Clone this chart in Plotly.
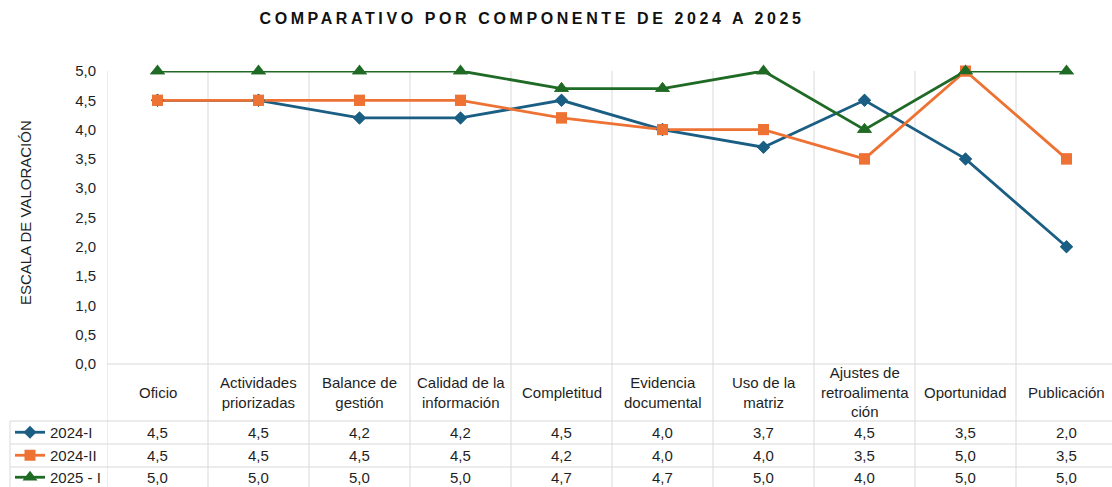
import plotly.graph_objects as go

categories = ["Oficio", "Actividades<br>priorizadas", "Balance de<br>gestión",
              "Calidad de la<br>información", "Completitud", "Evidencia<br>documental",
              "Uso de la<br>matriz", "Ajustes de<br>retroalimenta<br>ción", "Oportunidad",
              "Publicación"]
series_names = ["2024-I", "2024-II", "2025 - I"]
s_2024_I = [4.5, 4.5, 4.2, 4.2, 4.5, 4.0, 3.7, 4.5, 3.5, 2.0]
s_2024_II = [4.5, 4.5, 4.5, 4.5, 4.2, 4.0, 4.0, 3.5, 5.0, 3.5]
s_2025_I = [5.0, 5.0, 5.0, 5.0, 4.7, 4.7, 5.0, 4.0, 5.0, 5.0]
y_ticks = [0, 0.5, 1, 1.5, 2, 2.5, 3, 3.5, 4, 4.5, 5]

values = [s_2024_I, s_2024_II, s_2025_I]
colors = ["#1B5E83", "#ED7233", "#1F6B25"]
symbols = ["diamond", "square", "triangle-up"]
msizes = [10, 11, 13]

W, H = 1112, 487
ML, MR, MT, MB = 107, 0, 71, 123
plot_h = H - MT - MB
plot_w = W - ML - MR
cat_px = 101.0
x_range = [-0.5, -0.5 + plot_w / cat_px]

FONT = "Liberation Sans, Arial, sans-serif"
TXT = "#1f1f1f"
GRID = "#D9D9D9"
FS = 15


def py(pix):
    # figure pixel row -> paper y
    return (H - MB - pix) / plot_h


def px(pix):
    return (pix - ML) / plot_w


xs = list(range(len(categories)))
fig = go.Figure()
legend_keys = ["legend", "legend2", "legend3"]
row_centers = [432.5, 455.5, 477.5]
for k, (name, vals) in enumerate(zip(series_names, values)):
    fig.add_trace(go.Scatter(
        x=xs, y=vals, name=name, mode="lines+markers",
        line=dict(color=colors[k], width=2.8),
        marker=dict(symbol=symbols[k], size=msizes[k], color=colors[k]),
        cliponaxis=True, legend=legend_keys[k], hoverinfo="skip",
    ))
for k, (name, vals) in enumerate(zip(series_names, values)):
    fig.add_trace(go.Scatter(
        x=xs, y=vals, name=name, mode="markers",
        marker=dict(symbol=symbols[k], size=msizes[k], color=colors[k]),
        cliponaxis=False, showlegend=False, hoverinfo="skip",
    ))

shapes = []
bottom = py(H + 2)
# vertical category boundaries (including axis line)
for i in range(len(categories)):
    shapes.append(dict(type="line", xref="x", yref="paper", x0=i - 0.5, x1=i - 0.5,
                       y0=bottom, y1=1, line=dict(color=GRID, width=1), layer="below"))
# horizontal table lines
shapes.append(dict(type="line", xref="paper", yref="paper", x0=0, x1=1, y0=0, y1=0,
                   line=dict(color=GRID, width=1), layer="below"))
for yy in [421, 444, 467]:
    shapes.append(dict(type="line", xref="paper", yref="paper", x0=px(10), x1=1,
                       y0=py(yy), y1=py(yy), line=dict(color=GRID, width=1), layer="below"))
shapes.append(dict(type="line", xref="paper", yref="paper", x0=px(10), x1=px(10),
                   y0=py(421), y1=bottom, line=dict(color=GRID, width=1), layer="below"))

annotations = []
for i, c in enumerate(categories):
    annotations.append(dict(x=i, y=py(392), xref="x", yref="paper", text=c,
                            showarrow=False, font=dict(family=FONT, size=FS, color=TXT),
                            xanchor="center", yanchor="middle"))
for k, vals in enumerate(values):
    for i, v in enumerate(vals):
        annotations.append(dict(x=i, y=py(row_centers[k]), xref="x", yref="paper",
                                text=f"{v:.1f}".replace(".", ","), showarrow=False,
                                font=dict(family=FONT, size=FS, color=TXT),
                                xanchor="center", yanchor="middle"))
annotations.append(dict(x=px(25), y=py(213), xref="paper", yref="paper",
                        text="ESCALA DE VALORACIÓN", textangle=-90, showarrow=False,
                        font=dict(family=FONT, size=FS, color=TXT),
                        xanchor="center", yanchor="middle"))

layout_legends = {}
for k, key in enumerate(legend_keys):
    layout_legends[key] = dict(
        x=px(10), y=py(row_centers[k]), xref="paper", yref="paper",
        xanchor="left", yanchor="middle", bgcolor="rgba(0,0,0,0)",
        font=dict(family=FONT, size=FS, color=TXT), itemwidth=30,
    )

fig.update_layout(
    width=W, height=H,
    margin=dict(l=ML, r=MR, t=MT, b=MB, autoexpand=False),
    paper_bgcolor="white", plot_bgcolor="white",
    separators=", ",
    showlegend=True,
    title=dict(
        text='<span style="letter-spacing:3.6px">COMPARATIVO POR COMPONENTE DE 2024 A 2025</span>',
        x=532 / W, xref="container", xanchor="center",
        y=1 - 18 / H, yref="container", yanchor="middle",
        font=dict(family=FONT, size=16, color="#111111", weight="bold"),
    ),
    xaxis=dict(range=x_range, showgrid=False, showticklabels=False, zeroline=False,
               showline=False, ticks=""),
    yaxis=dict(range=[0, 5], tickvals=y_ticks, tickformat=".1f", showgrid=False,
               zeroline=False, showline=False, ticks="", ticklabelstandoff=10,
               tickfont=dict(family=FONT, size=FS, color=TXT)),
    shapes=shapes, annotations=annotations,
    **layout_legends,
)

fig.write_html("out.html", config={"displayModeBar": False},
               post_script="document.body.style.margin='0';document.body.style.overflow='hidden';")
